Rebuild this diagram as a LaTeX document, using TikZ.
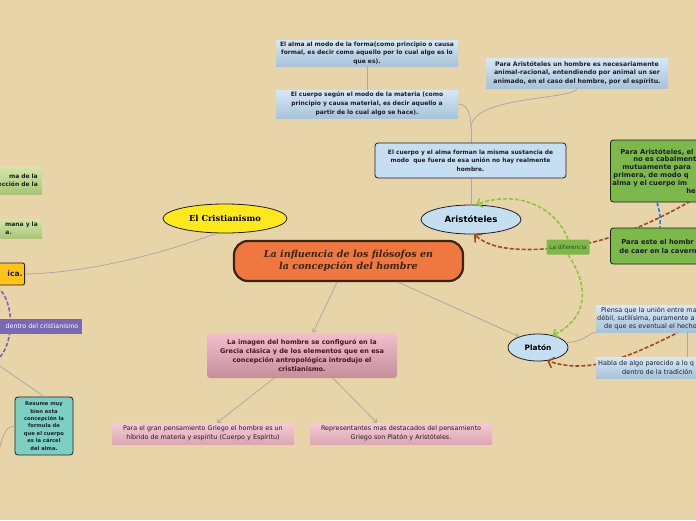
\documentclass[tikz,border=0pt]{standalone}
\usepackage{fontspec}
\setmainfont{DejaVu Sans}
\newfontfamily\serifhead{DejaVu Serif}
\usetikzlibrary{arrows.meta,shapes.geometric,calc}

\definecolor{fondo}{HTML}{E8D4A9}
\definecolor{celesteA}{HTML}{D6E8F6}
\definecolor{celesteB}{HTML}{A9C3D9}
\definecolor{celeste}{HTML}{C6DEF2}
\definecolor{rosaA}{HTML}{F6CBD6}
\definecolor{rosaB}{HTML}{DCA6B4}
\definecolor{rosaC}{HTML}{F4BECC}
\definecolor{rosaD}{HTML}{C58E9C}
\definecolor{verdeA}{HTML}{D4E6A8}
\definecolor{verdeB}{HTML}{AAC47A}
\definecolor{verde}{HTML}{7CB94A}
\definecolor{amarillo}{HTML}{FFE81C}
\definecolor{naranja}{HTML}{F07840}
\definecolor{marron}{HTML}{3B2414}
\definecolor{oro}{HTML}{FFC41C}
\definecolor{morado}{HTML}{7B68B2}
\definecolor{moradoL}{HTML}{7E62BE}
\definecolor{turquesa}{HTML}{7CD0C2}
\definecolor{cafe}{HTML}{9E4B1E}
\definecolor{verdeL}{HTML}{8CC63F}
\definecolor{azulL}{HTML}{1F7EE8}
\definecolor{gris}{HTML}{A9AAA5}
\definecolor{tinta}{HTML}{1E1E28}
\definecolor{granate}{HTML}{4A1424}

\tikzset{
  celestebox/.style={top color=celesteA, bottom color=celesteB, inner sep=1pt, align=center, text=tinta},
  rosabox/.style={top color=rosaA, bottom color=rosaB, inner sep=1pt, align=center, text=tinta,
    font=\fontsize{6.4}{8.8}\selectfont},
  verdebox/.style={top color=verdeA, bottom color=verdeB, inner sep=1pt, text=tinta,
    font=\bfseries\fontsize{6}{8.4}\selectfont},
  ovalo/.style={ellipse, draw=tinta, thick, fill=celeste, inner sep=0pt},
  rama/.style={draw=gris, line width=0.8pt},
  flecha/.style={rama, -{Straight Barb[length=3pt,width=5pt]}},
  enlace/.style={line width=1.6pt, dash pattern=on 4pt off 2pt}
}

\begin{document}
\begin{tikzpicture}[x=1pt, y=-1pt]
  \useasboundingbox (0,0) rectangle (696,520);
  \fill[fondo] (0,0) rectangle (696,520);
  \clip (0,0) rectangle (696,520);

  % ejes principales
  \node[draw=marron, line width=2.2pt, fill=naranja, rounded corners=14pt,
    minimum width=229pt, minimum height=40pt, align=center, text=marron,
    font=\serifhead\bfseries\itshape\fontsize{9.6}{12}\selectfont] (central) at (348.5,261)
    {La influencia de los filósofos en\\ la concepción del hombre};
  \node[ovalo, fill=amarillo, minimum width=124pt, minimum height=29pt,
    font=\serifhead\bfseries\fontsize{8.3}{9}\selectfont] (crist) at (225,218.5) {El Cristianismo};
  \node[ovalo, minimum width=100pt, minimum height=29pt,
    font=\bfseries\fontsize{8.6}{9}\selectfont] (aris) at (471,219.5) {Aristóteles};
  \node[ovalo, minimum width=60pt, minimum height=27pt,
    font=\bfseries\fontsize{7.4}{9}\selectfont] (platon) at (538,347.5) {Platón};

  % Aristoteles
  \node[celestebox, minimum width=182pt, minimum height=26pt, text width=180pt,
    font=\bfseries\fontsize{6}{8.6}\selectfont] (alma) at (367,53)
    {El alma al modo de la forma(como principio o causa\\ formal, es decir como aquello por lo cual algo es lo\\ que es).};
  \node[celestebox, minimum width=182pt, minimum height=28pt, text width=180pt,
    font=\bfseries\fontsize{6}{8.8}\selectfont] (cuerpo) at (367,104)
    {El cuerpo según el modo de la materia (como\\ principio y causa material, es decir aquello a\\ partir de lo cual algo se hace).};
  \node[celestebox, minimum width=182pt, minimum height=30pt, text width=180pt,
    font=\bfseries\fontsize{6.2}{8.4}\selectfont] (animal) at (577,73)
    {Para Aristóteles un hombre es necesariamente\\ animal-racional, entendiendo por animal un ser\\ animado, en el caso del hombre, por el espíritu.};
  \coordinate (junta) at (471,128);
  \draw[rama] (alma.south) -- (cuerpo.north);
  \draw[rama] (aris.north) -- (junta);
  \draw[rama] (junta) .. controls (471,95) and (577,100) .. (animal.south);
  \draw[rama] (junta) to[out=90, in=0] (cuerpo.east);
  \node[draw=tinta, thick, fill=celeste, rounded corners=3pt, minimum width=191pt,
    minimum height=35pt, align=center, text=tinta, inner sep=1pt,
    font=\bfseries\fontsize{5.9}{8.4}\selectfont] (sustancia) at (470.5,160.5)
    {El cuerpo y el alma forman la misma sustancia de\\ modo~ que fuera de esa unión no hay realmente\\ hombre.};

  % imagen del hombre
  \node[top color=rosaC, bottom color=rosaD, rounded corners=3pt, minimum width=190pt,
    minimum height=45pt, align=center, text=granate, inner sep=1pt,
    font=\bfseries\fontsize{6.5}{9}\selectfont] (imagen) at (302,355.5)
    {La imagen del hombre se configuró en la\\ Grecia clásica y de los elementos que en esa\\ concepción antropológica introdujo el\\ cristianismo.};
  \node[rosabox, minimum width=182pt, minimum height=21pt] (griego) at (203,433.5)
    {Para el gran pensamiento Griego el hombre es un\\ híbrido de materia y espíritu (Cuerpo y Espíritu)};
  \node[rosabox, minimum width=182pt, minimum height=21pt] (repres) at (401,433.5)
    {Representantes mas destacados del pensamiento\\ Griego son Platón y Aristóteles.};
  \draw[flecha] (central.south -| 337,0) -- (imagen.north -| 313,0);
  \draw[flecha] (central.south -| 398,0) -- (platon.150);
  \draw[flecha] (imagen.south -| 274,0) -- (griego.north -| 217,0);
  \draw[flecha] (imagen.south -| 333,0) -- (repres.north -| 377,0);

  % lado izquierdo
  \coordinate (izqA) at (-3,287);
  \coordinate (izqB) at (-3,360);
  \coordinate (izqC) at (-3,364);
  \coordinate (izqD) at (-2,456);
  \draw[moradoL, enlace] (izqA) .. controls (15,300) and (15,345) .. (izqB);
  \node[verdebox, anchor=east, minimum width=80pt, minimum height=27pt, text width=73pt,
    inner xsep=4pt, align=right] (verdeuno) at (42,180.5) {ma de la\\ ección de la};
  \node[verdebox, anchor=east, minimum width=80pt, minimum height=19pt, text width=73pt,
    inner xsep=4pt, align=right] (verdedos) at (42,228.5) {mana y la\\ a.\hspace*{26pt}};
  \node[draw=tinta, thick, fill=oro, rounded corners=2pt, anchor=east, minimum width=60pt,
    minimum height=22pt, text width=56pt, align=right, inner sep=2pt, text=tinta,
    font=\bfseries\fontsize{7.6}{9}\selectfont] (ica) at (25,274) {ica.};
  \draw[rama] (crist.240) .. controls (150,258) and (80,273) .. (ica.east);
  \node[fill=morado, anchor=east, minimum width=120pt, minimum height=15pt, text width=113pt,
    align=right, inner xsep=3.5pt, inner ysep=1.5pt, text=white,
    font=\fontsize{6.3}{8}\selectfont] (dentro) at (82,326.5) {dentro del cristianismo};
  \node[draw=tinta, thick, fill=turquesa, rounded corners=3pt, minimum width=58pt,
    minimum height=58pt, align=center, inner sep=1pt, text=tinta,
    font=\bfseries\fontsize{5.2}{7.4}\selectfont] (carcel) at (44,426)
    {Resume muy\\ bien esta\\ concepción la\\ formula de\\ que el cuerpo\\ es la cárcel\\ del alma.};
  \draw[rama] (izqC) -- (carcel.north);
  \draw[rama] (izqD) .. controls (3,430) and (8,426) .. (carcel.west);

  % lado derecho
  \coordinate (derA) at (706,192);
  \coordinate (derB) at (702,320);
  \coordinate (cruce) at (568,247);
  \draw[cafe, enlace, -{Straight Barb[length=5pt,width=11pt]}]
    (derA) .. controls (640,232) and (600,242) .. (cruce)
    .. controls (520,252) and (492,250) .. (aris.-78);
  \draw[cafe, enlace, -{Straight Barb[length=5pt,width=11pt]}]
    (derB) .. controls (630,358) and (590,375) .. (platon.-55);
  \node[fill=verde, draw=tinta, thick, rounded corners=3pt, anchor=west, minimum width=120pt,
    minimum height=62pt, text width=120pt, inner xsep=0pt, align=left, text=tinta,
    font=\bfseries\fontsize{6.8}{7.8}\selectfont] (verdetres) at (610,171)
    {\hspace*{10pt}Para Aristóteles, el\\ \hspace*{23pt}no es cabalment\\ \hspace*{12pt}mutuamente para\\
     \hspace*{3pt}primera, de modo q\\ \hspace*{2pt}alma y el cuerpo im\\ \hspace*{76pt}he};
  \node[fill=verde, draw=tinta, thick, rounded corners=3pt, anchor=west, minimum width=120pt,
    minimum height=36pt, text width=120pt, inner xsep=0pt, align=left, text=tinta,
    font=\bfseries\fontsize{6.8}{9}\selectfont] (verdecuatro) at (610,246)
    {\hspace*{11pt}Para este el hombr\\ \hspace*{9pt}de caer en la cavern};
  \draw[azulL, enlace] ($(verdetres.south west)+(47,0)$) to[bend left=10]
    ($(verdecuatro.north west)+(50,0)$);
  \node[fill=verde, rounded corners=1pt, minimum width=43pt, minimum height=15pt,
    inner sep=1pt, text=black!60!verde, font=\fontsize{5.8}{8}\selectfont] (dif) at (cruce)
    {La diferencia};
  \draw[verdeL, enlace, -{Straight Barb[length=4pt,width=9pt]}]
    (dif.north) .. controls (555,205) and (515,190) .. (aris.70);
  \draw[verdeL, enlace, -{Straight Barb[length=4pt,width=9pt]}]
    (dif.south) .. controls (592,290) and (585,320) .. (platon.40);
  \node[celestebox, anchor=west, minimum width=120pt, minimum height=27pt, text width=120pt,
    inner xsep=0pt, align=left, font=\fontsize{6.5}{8.3}\selectfont] (piensa) at (596,318.5)
    {\hspace*{5pt}Piensa que la unión entre ma\\ \hspace*{1pt}débil, sutilísima, puramente a\\
     \hspace*{8pt}de que es eventual el hecho};
  \node[celestebox, anchor=west, minimum width=120pt, minimum height=21pt, text width=120pt,
    inner xsep=0pt, align=left, font=\fontsize{6.5}{8.3}\selectfont] (habla) at (596,367.5)
    {\hspace*{2pt}Habla de algo parecido a lo q\\ \hspace*{26pt}dentro de la tradición};
  \draw[rama] (platon.10) .. controls (585,342) and (588,333) .. (piensa.south west);
  \draw[rama] (piensa.south -| 687,0) -- (habla.north -| 687,0);
\end{tikzpicture}
\end{document}
